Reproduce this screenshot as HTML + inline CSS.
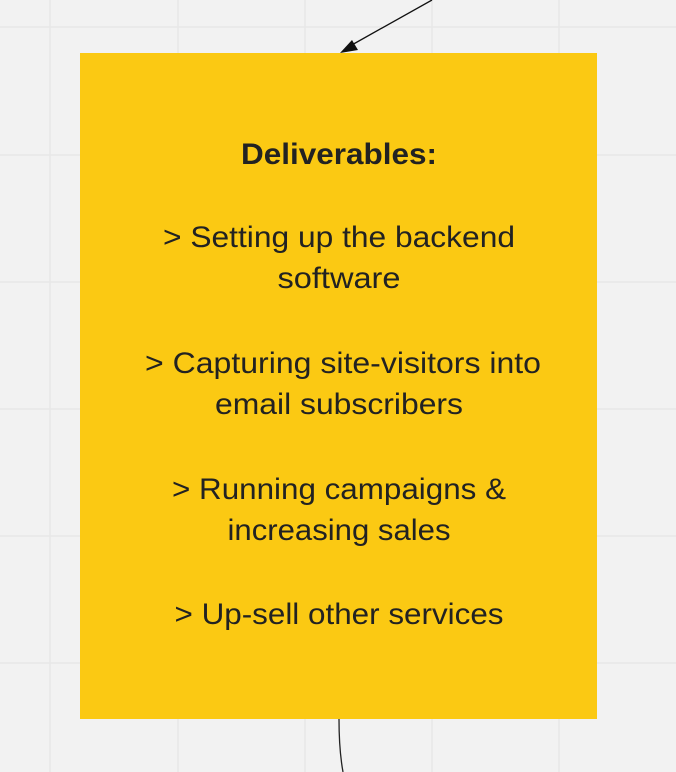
<!DOCTYPE html>
<html><head><style>html,body{margin:0;padding:0;background:#f2f2f2;}svg{display:block}</style></head>
<body>
<svg width="676" height="772" xmlns="http://www.w3.org/2000/svg">
<rect width="676" height="772" fill="#f2f2f2"/>
<g stroke="#e8e8e8" stroke-width="1.5">
<line x1="50" y1="0" x2="50" y2="772"/><line x1="178" y1="0" x2="178" y2="772"/><line x1="305" y1="0" x2="305" y2="772"/><line x1="432" y1="0" x2="432" y2="772"/><line x1="559" y1="0" x2="559" y2="772"/>
<line x1="0" y1="27" x2="676" y2="27"/><line x1="0" y1="155" x2="676" y2="155"/><line x1="0" y1="282" x2="676" y2="282"/><line x1="0" y1="409" x2="676" y2="409"/><line x1="0" y1="536" x2="676" y2="536"/><line x1="0" y1="663" x2="676" y2="663"/>
</g>
<rect x="80" y="53" width="517" height="666" fill="#fbc913"/>
<line x1="432" y1="0" x2="350" y2="46" stroke="#111" stroke-width="1.3"/>
<polygon points="340,53 352,40 358,50" fill="#111"/>
<path d="M339,719 Q339,750 343,772" stroke="#222" stroke-width="1.3" fill="none"/>
<g font-family="Liberation Sans, sans-serif" font-size="30" fill="#222" text-anchor="middle">
<text x="339" y="164" font-weight="bold" textLength="196" lengthAdjust="spacingAndGlyphs">Deliverables:</text>
<text x="339" y="247" textLength="352" lengthAdjust="spacingAndGlyphs">&gt; Setting up the backend</text>
<text x="339" y="288" textLength="123" lengthAdjust="spacingAndGlyphs">software</text>
<text x="343" y="373" textLength="396" lengthAdjust="spacingAndGlyphs">&gt; Capturing site-visitors into</text>
<text x="339" y="414" textLength="248" lengthAdjust="spacingAndGlyphs">email subscribers</text>
<text x="339" y="499" textLength="334" lengthAdjust="spacingAndGlyphs">&gt; Running campaigns &amp;</text>
<text x="339" y="540" textLength="223" lengthAdjust="spacingAndGlyphs">increasing sales</text>
<text x="339" y="624" textLength="329" lengthAdjust="spacingAndGlyphs">&gt; Up-sell other services</text>
</g>
</svg>
</body></html>
